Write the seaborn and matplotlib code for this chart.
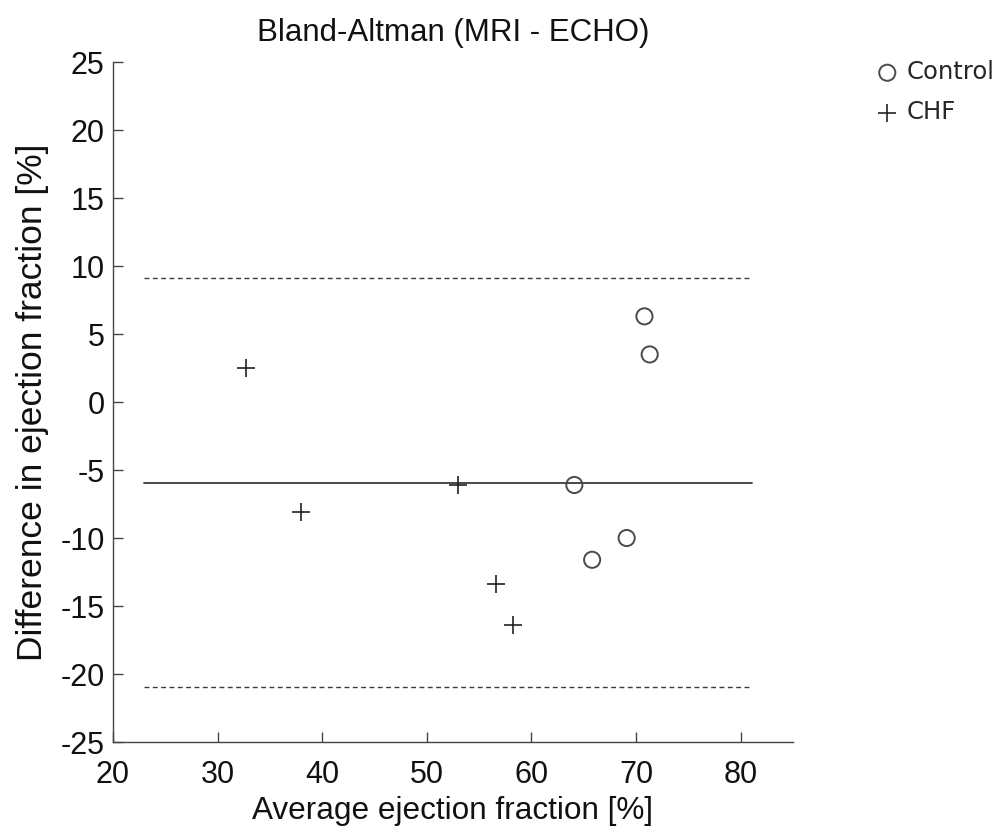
import matplotlib
matplotlib.use("Agg")
import matplotlib.pyplot as plt
import seaborn as sns
import pandas as pd

# Data
control_avg = [70.8, 71.3, 64.1, 65.8, 69.1]
control_diff = [6.3, 3.5, -6.1, -11.6, -10.0]
chf_avg = [32.7, 38.0, 53.0, 56.6, 58.2]
chf_diff = [2.5, -8.1, -6.1, -13.4, -16.4]
mean_diff = -5.95
upper_loa = 9.1
lower_loa = -20.95
line_x = [23.0, 81.1]
x_ticks = [20, 30, 40, 50, 60, 70, 80]
y_ticks = [25, 20, 15, 10, 5, 0, -5, -10, -15, -20, -25]

sns.set_style("white")
plt.rcParams['font.family'] = ['Liberation Sans', 'DejaVu Sans']
plt.rcParams['axes.unicode_minus'] = False

df_c = pd.DataFrame({"avg": control_avg, "diff": control_diff})
df_h = pd.DataFrame({"avg": chf_avg, "diff": chf_diff})

fig = plt.figure(figsize=(9.98, 8.34), dpi=100)
ax = fig.add_axes([0.1132, 0.1103, 0.6814, 0.8153])

gray = "#3a3a3a"
sns.lineplot(x=line_x, y=[upper_loa, upper_loa], ax=ax, color=gray, lw=1.0, linestyle=(0, (3.5, 2.5)))
sns.lineplot(x=line_x, y=[mean_diff, mean_diff], ax=ax, color=gray, lw=1.3)
sns.lineplot(x=line_x, y=[lower_loa, lower_loa], ax=ax, color=gray, lw=1.0, linestyle=(0, (3.5, 2.5)))

sns.scatterplot(data=df_c, x="avg", y="diff", ax=ax, marker="o", s=135,
                facecolors="none", edgecolors="#4a4a4a", linewidths=1.4, label="Control", zorder=3)
sns.scatterplot(data=df_h, x="avg", y="diff", ax=ax, marker="+", s=150,
                color="#222222", linewidths=1.2, label="CHF", zorder=3)

ax.set_xlim(20, 85)
ax.set_ylim(-25, 25)
ax.set_xticks(x_ticks)
ax.set_yticks(y_ticks)
ax.tick_params(bottom=True, left=True, direction="in", length=7, width=1, colors="#444444",
               labelsize=22, labelcolor="#111111")
ax.tick_params(axis="x", pad=13)
ax.tick_params(axis="y", pad=6)
for s in ["top", "right"]:
    ax.spines[s].set_visible(False)
for s in ["left", "bottom"]:
    ax.spines[s].set_color("#444444")
    ax.spines[s].set_linewidth(1.0)

ax.set_title("Bland-Altman (MRI - ECHO)", fontsize=22.5, color="#111111", pad=15)
ax.set_xlabel("Average ejection fraction [%]", fontsize=22.7, color="#111111", labelpad=4)
ax.set_ylabel("Difference in ejection fraction [%]", fontsize=25.5, color="#111111", labelpad=8)

leg = ax.legend(loc="upper left", bbox_to_anchor=(1.085, 1.035), frameon=False,
                prop={"family": "DejaVu Sans", "size": 17.5}, handletextpad=0.2,
                labelspacing=0.65, handlelength=1.2)

fig.savefig("out.png", dpi=100)
